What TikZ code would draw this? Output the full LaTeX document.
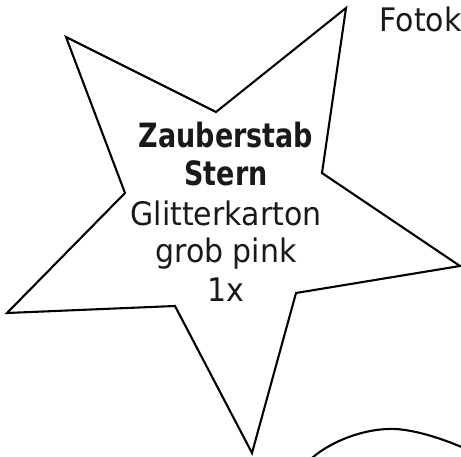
\documentclass[tikz,border=0pt]{standalone}
\usepackage{fontspec}
\setmainfont{DejaVu Sans}
\begin{document}
\begin{tikzpicture}[x=1pt,y=-1pt,
  outline/.style={draw=black,line width=2.1pt,line join=miter},
  boldline/.style={anchor=base,font=\fontsize{31}{31}\selectfont\bfseries,xscale=0.87,yscale=1.08,text=black!90},
  normline/.style={anchor=base,font=\fontsize{30}{30}\selectfont,yscale=1.08,text=black!90}]
\useasboundingbox (0,0) rectangle (461,457);
\draw[outline] (66,37) -- (216,112) -- (346,8) -- (322,173) -- (460,266) -- (296,293)
  -- (252,453) -- (175,306) -- (7,313) -- (125,193) -- cycle;
\draw[outline] (312,458) .. controls (335,438) and (375,425) .. (405,430) .. controls (425,433) and (445,440) .. (464,448);
\node[boldline] (l1) at (226,148) {Zauberstab};
\node[boldline] (l2) at (226,186) {Stern};
\node[normline] (l3) at (226,226) {Glitterkarton};
\node[normline] (l4) at (226,263) {grob pink};
\node[normline] (l5) at (226,302) {1x};
\node[normline,anchor=base west] (f) at (376,32) {Fotok};
\end{tikzpicture}
\end{document}
